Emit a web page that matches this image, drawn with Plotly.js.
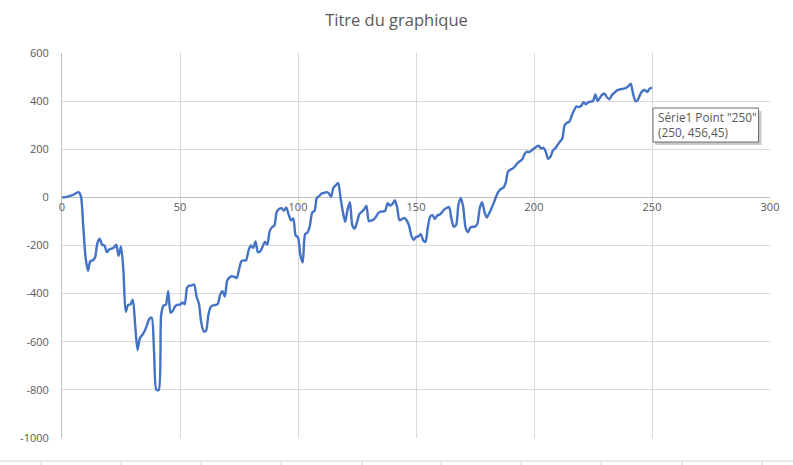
<!DOCTYPE html>
<html>
<head>
<meta charset="utf-8">
<script src="https://cdn.plot.ly/plotly-3.0.1.min.js"></script>
<style>html,body{margin:0;padding:0;background:#fff;}#chart{width:793px;height:465px;}</style>
</head>
<body>
<div id="chart"></div>
<script>
const seriesName = "Série1";
const xTicks = [0, 50, 100, 150, 200, 250, 300];
const yTicks = [-1000, -800, -600, -400, -200, 0, 200, 400, 600];
const values = [
  0, 0, 2, 5, 8, 12, 18, 22, 5, -120,
  -250, -305, -265, -262, -250, -190, -172, -197, -200, -228,
  -217, -213, -208, -197, -244, -204, -300, -476, -447, -445,
  -425, -530, -634, -585, -572, -555, -531, -505, -500, -640,
  -800, -800, -490, -450, -446, -390, -480, -470, -452, -446,
  -446, -437, -444, -375, -367, -366, -362, -412, -441, -520,
  -556, -555, -490, -455, -449, -447, -443, -405, -390, -412,
  -345, -333, -328, -330, -335, -300, -266, -262, -262, -222,
  -200, -210, -183, -228, -224, -205, -185, -196, -140, -124,
  -117, -60, -48, -45, -55, -42, -70, -95, -88, -158,
  -166, -240, -270, -154, -146, -120, -63, -56, -2, 5,
  16, 18, 22, 18, 2, 40, 50, 60, 0, -60,
  -102, -50, -20, -115, -130, -104, -70, -60, -50, -35,
  -98, -97, -92, -82, -65, -59, -59, -55, -24, -34,
  -28, -12, -40, -95, -90, -85, -95, -115, -158, -176,
  -165, -162, -152, -178, -186, -125, -80, -74, -90, -75,
  -72, -62, -50, -44, -40, -88, -122, -115, -30, -2,
  -40, -125, -145, -126, -122, -122, -110, -45, -20, -60,
  -84, -66, -45, -22, 5, 25, 35, 40, 60, 108,
  115, 120, 130, 142, 150, 158, 180, 190, 188, 195,
  203, 210, 215, 203, 206, 190, 160, 170, 195, 204,
  218, 232, 245, 300, 310, 315, 340, 362, 378, 375,
  380, 396, 387, 395, 398, 400, 428, 400, 415, 428,
  430, 415, 408, 425, 434, 443, 448, 450, 452, 455,
  462, 472, 430, 400, 405, 428, 442, 446, 438, 452,
  456.45
];
const xs = values.map((v, i) => i);
const lastX = xs[xs.length - 1];
const lastY = values[values.length - 1];
const tipText = seriesName + ' Point "' + lastX + '"<br>(' + lastX + ', ' + String(lastY).replace('.', ',') + ')';

const trace = {
  x: xs, y: values, type: 'scatter', mode: 'lines',
  line: {color: '#4472C4', width: 2.4, shape: 'spline', smoothing: 0.7},
  hoverinfo: 'none', name: seriesName
};

const shapes = [];
const W = 708, H = 385;
const px = p => (p - 62) / W;
const py = p => (438 - p) / H;
// spreadsheet cell lines under the chart
shapes.push({type: 'line', xref: 'paper', yref: 'paper', x0: px(0), x1: px(793), y0: py(461), y1: py(461), line: {color: '#D4D4D4', width: 1}});
[41, 121, 201, 281, 362, 441, 521, 601, 682, 762].forEach(c => {
  shapes.push({type: 'line', xref: 'paper', yref: 'paper', x0: px(c), x1: px(c), y0: py(461), y1: py(466), line: {color: '#D4D4D4', width: 1}});
});
// tooltip shadow and box
const tip = (dx0, dx1, dy0, dy1, fill, lineCol) => ({
  type: 'rect', xref: 'x', yref: 'y', xsizemode: 'pixel', ysizemode: 'pixel',
  xanchor: lastX, yanchor: lastY, x0: dx0, x1: dx1, y0: dy0, y1: dy1,
  fillcolor: fill, line: lineCol ? {color: lineCol, width: 1} : {width: 0}
});
shapes.push(tip(3, 109.5, -23.5, -57.5, '#C8C8C8', null));
shapes.push(tip(1, 106.5, -20.5, -54.5, '#FFFFFF', '#6E6E6E'));

const layout = {
  width: 793, height: 465,
  margin: {l: 62, r: 23, t: 53, b: 27},
  paper_bgcolor: '#ffffff', plot_bgcolor: '#ffffff',
  showlegend: false,
  font: {family: 'Open Sans, sans-serif', color: '#595959', size: 11},
  title: {text: 'Titre du graphique', x: 0.5, xanchor: 'center', y: 0.957, yanchor: 'middle',
    font: {family: 'Open Sans, sans-serif', size: 16.5, color: '#595959'}},
  xaxis: {
    range: [0, 300], tickvals: xTicks, ticktext: xTicks.map(String),
    anchor: 'free', position: 0.625, side: 'bottom',
    showgrid: true, gridcolor: '#D9D9D9', gridwidth: 1,
    zeroline: false, showline: false, ticks: '', ticklabelstandoff: 2,
    tickfont: {size: 11, color: '#595959'}, fixedrange: true
  },
  yaxis: {
    range: [-1000, 600], tickvals: yTicks, ticktext: yTicks.map(String),
    showgrid: true, gridcolor: '#D9D9D9', gridwidth: 1,
    zeroline: true, zerolinecolor: '#BFBFBF', zerolinewidth: 1,
    showline: true, linecolor: '#BFBFBF', linewidth: 1, ticks: '', ticklabelstandoff: 10,
    tickfont: {size: 11, color: '#595959'}, fixedrange: true
  },
  shapes: shapes,
  annotations: [{
    x: lastX, y: lastY, xref: 'x', yref: 'y', text: tipText, showarrow: false,
    xanchor: 'left', yanchor: 'top', xshift: 6, yshift: -21, align: 'left',
    borderpad: 0, borderwidth: 0,
    font: {family: 'Open Sans, sans-serif', size: 11.8, color: '#595959'}
  }]
};

Plotly.newPlot('chart', [trace], layout, {staticPlot: true, displayModeBar: false});
</script>
</body>
</html>
